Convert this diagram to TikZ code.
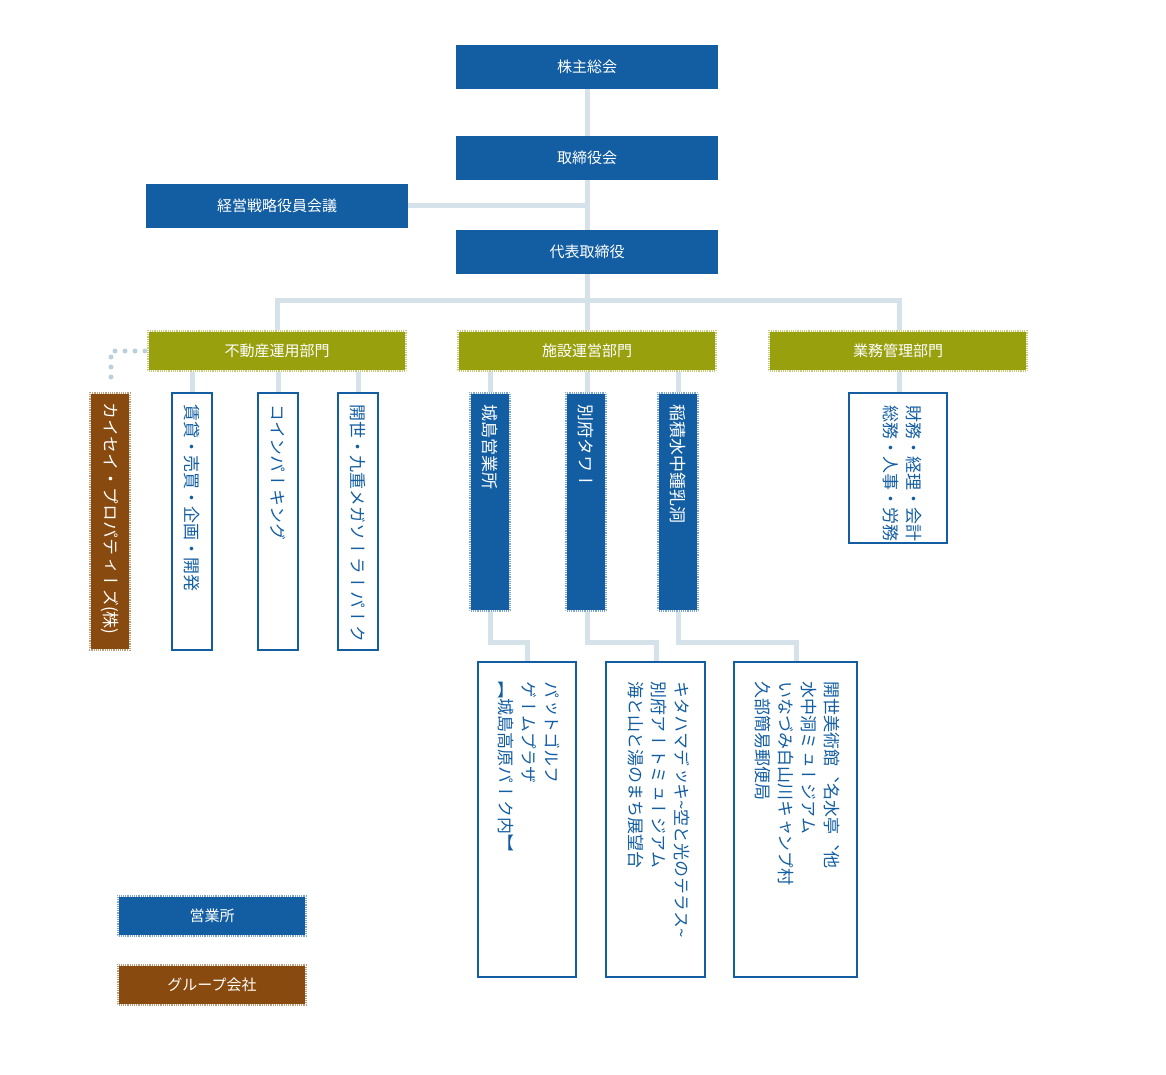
\documentclass[tikz,border=0pt]{standalone}
\usepackage{fontspec}
\setmainfont{Noto Sans CJK JP}
\newfontfamily\vjp[Vertical=RotatedGlyphs]{Noto Sans CJK JP}
\definecolor{cblue}{HTML}{135EA3}
\definecolor{colive}{HTML}{98A00E}
\definecolor{cbrown}{HTML}{894A0F}
\definecolor{cline}{HTML}{D5E2EA}
\definecolor{cdot}{HTML}{BCCFDC}
\begin{document}
\begin{tikzpicture}[x=1pt,y=-1pt,
  bx/.style={draw=none,fill=cblue,text=white,font=\fontsize{15}{18}\selectfont},
  hb/.style={fill=#1,draw=#1!55!white,line width=2.4pt,
    postaction={draw=white,line width=2.4pt,dash pattern=on 1pt off 1.2pt}},
  wb/.style={fill=white,draw=cblue,line width=2.6pt},
  con/.style={draw=cline,line width=5pt},
  vt/.style={rotate=-90,text=#1,font=\vjp\fontsize{17}{23}\selectfont,inner sep=0pt,align=left},
  lb/.style={text=white,font=\fontsize{15}{18}\selectfont,inner sep=0pt}]
\useasboundingbox (0,0) rectangle (1166,1075);
% connectors
\draw[con] (587,89) -- (587,300);
\draw[con] (408,206) -- (587,206);
\draw[con] (277,330) -- (277,300) -- (899,300) -- (899,330);
\draw[con] (587,300) -- (587,330);
\foreach \x in {192,278,358,490,587,678,899} \draw[con] (\x,372) -- (\x,392);
\draw[con] (490,612) -- (490,642) -- (527,642) -- (527,661);
\draw[con] (587,612) -- (587,642) -- (656,642) -- (656,661);
\draw[con] (678,612) -- (678,642) -- (796,642) -- (796,661);
\draw[cdot,line width=5pt,line cap=round,dash pattern=on 0pt off 10pt] (145,351) -- (111,351) -- (111,384);
% top boxes
\path[bx] (456,45) rectangle (718,89); \node[lb] (a) at (587,67) {株主総会};
\path[bx] (456,136) rectangle (718,180); \node[lb] (b) at (587,158) {取締役会};
\path[bx] (146,184) rectangle (408,228); \node[lb] (c) at (277,206) {経営戦略役員会議};
\path[bx] (456,230) rectangle (718,274); \node[lb] (d) at (587,252) {代表取締役};
% olive
\draw[hb=colive] (148,331) rectangle (406,371); \node[lb] (e) at (277,351) {不動産運用部門};
\draw[hb=colive] (458,331) rectangle (716,371); \node[lb] (f) at (587,351) {施設運営部門};
\draw[hb=colive] (769,331) rectangle (1027,371); \node[lb] (g) at (898,351) {業務管理部門};
% real estate children
\draw[hb=cbrown] (90,393) rectangle (130,650); \node[vt=white,anchor=west] (k) at (110,402) {カイセイ・プロパティーズ(株)};
\draw[wb] (172,393) rectangle (212,650); \node[vt=cblue,anchor=west] (r1) at (192,404) {賃貸・売買・企画・開発};
\draw[wb] (258,393) rectangle (298,650); \node[vt=cblue,anchor=west] (r2) at (278,404) {コインパーキング};
\draw[wb] (338,393) rectangle (378,650); \node[vt=cblue,anchor=west] (r3) at (358,404) {開世・九重メガソーラーパーク};
% facility
\draw[hb=cblue] (470,393) rectangle (510,611); \node[vt=white,anchor=west] (s1) at (490,404) {城島営業所};
\draw[hb=cblue] (566,393) rectangle (606,611); \node[vt=white,anchor=west] (s2) at (586,404) {別府タワー};
\draw[hb=cblue] (658,393) rectangle (698,611); \node[vt=white,anchor=west] (s3) at (678,404) {稲積水中鍾乳洞};
% admin
\draw[wb] (849,393) rectangle (947,543); \node[vt=cblue,anchor=north west] (m) at (922,405) {財務・経理・会計\\総務・人事・労務};
% bottom
\draw[wb] (478,662) rectangle (576,977); \node[vt=cblue,anchor=north west] (t1) at (560,681) {パットゴルフ\\ゲームプラザ\\【城島高原パーク内】};
\draw[wb] (606,662) rectangle (705,977); \node[vt=cblue,anchor=north west] (t2) at (690,681) {キタハマデッキ\textasciitilde 空と光のテラス\textasciitilde\\別府アートミュージアム\\海と山と湯のまち展望台};
\draw[wb] (734,662) rectangle (857,977); \node[vt=cblue,anchor=north west] (t3) at (840,681) {開世美術館、名水亭、他\\水中洞ミュージアム\\いなづみ白山川キャンプ村\\久部簡易郵便局};
% legend
\draw[hb=cblue] (118,896) rectangle (306,936); \node[lb] (l1) at (212,916) {営業所};
\draw[hb=cbrown] (118,965) rectangle (306,1005); \node[lb] (l2) at (212,985) {グループ会社};
\end{tikzpicture}
\end{document}
